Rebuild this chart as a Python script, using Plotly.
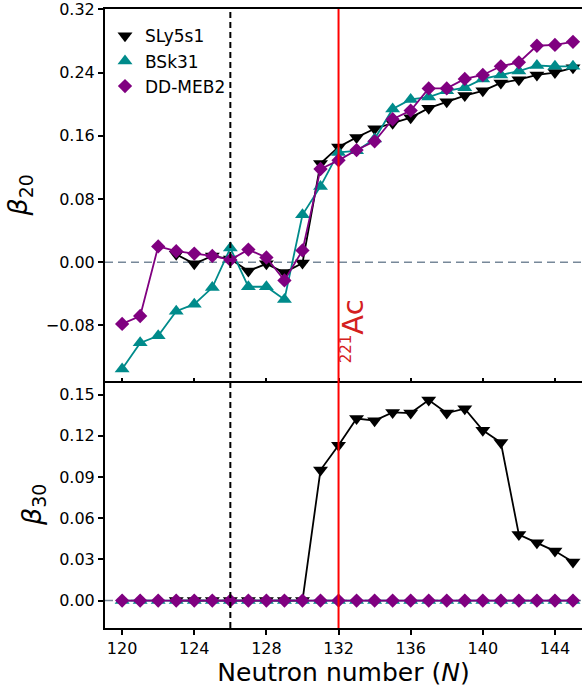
import plotly.graph_objects as go

# Neutron numbers
N_all = list(range(120, 146))
N_sly = list(range(123, 146))

# beta_20 values
b20_sly = [0.010, -0.002, 0.008, 0.004, -0.011, -0.002, -0.013, -0.001,
           0.125, 0.146, 0.158, 0.169, 0.176, 0.183, 0.195, 0.203, 0.211,
           0.217, 0.227, 0.231, 0.237, 0.240, 0.246]
b20_bsk = [-0.135, -0.102, -0.093, -0.062, -0.053, -0.032, 0.018, -0.031,
           -0.031, -0.047, 0.060, 0.096, 0.139, 0.141, 0.156, 0.194, 0.206,
           0.209, 0.217, 0.221, 0.232, 0.237, 0.242, 0.249, 0.248, 0.248]
b20_ddm = [-0.078, -0.068, 0.020, 0.014, 0.011, 0.008, 0.003, 0.016,
           0.006, -0.023, 0.015, 0.118, 0.129, 0.142, 0.153, 0.181, 0.192,
           0.220, 0.220, 0.232, 0.237, 0.248, 0.253, 0.274, 0.275, 0.279]

# beta_30 values
b30_sly = [0.0, 0.0, 0.0, 0.0, 0.0, 0.0, 0.0, 0.0,
           0.095, 0.113, 0.1325, 0.131, 0.137, 0.1365, 0.146, 0.1365, 0.1397,
           0.124, 0.115, 0.048, 0.042, 0.036, 0.028]
b30_bsk = [0.0] * 26
b30_ddm = [0.0] * 26

names = ["SLy5s1", "BSk31", "DD-MEB2"]
colors = ["black", "#008b8b", "#800080"]
symbols = ["triangle-down", "triangle-up", "diamond"]
sizes = [13, 13, 11]

x_ticks = [120, 124, 128, 132, 136, 140, 144]
y20_ticks = [-0.08, 0.0, 0.08, 0.16, 0.24, 0.32]
y30_ticks = [0.0, 0.03, 0.06, 0.09, 0.12, 0.15]

magic_N = 126
ac_N = 132

fig = go.Figure()

series20 = [(N_sly, b20_sly), (N_all, b20_bsk), (N_all, b20_ddm)]
series30 = [(N_sly, b30_sly), (N_all, b30_bsk), (N_all, b30_ddm)]

for i in range(3):
    x, y = series20[i]
    fig.add_trace(go.Scatter(x=x, y=y, mode="lines+markers", xaxis="x2", yaxis="y2",
                             line=dict(color=colors[i], width=1.8),
                             marker=dict(symbol=symbols[i], size=sizes[i], color=colors[i]),
                             showlegend=False))
for i in range(3):
    x, y = series30[i]
    fig.add_trace(go.Scatter(x=x, y=y, mode="lines+markers", xaxis="x", yaxis="y",
                             line=dict(color=colors[i], width=1.8),
                             marker=dict(symbol=symbols[i], size=sizes[i], color=colors[i]),
                             showlegend=False))
# legend entries (markers only)
for i in range(3):
    fig.add_trace(go.Scatter(x=[None], y=[None], mode="markers", xaxis="x2", yaxis="y2",
                             name=names[i],
                             marker=dict(symbol=symbols[i], size=sizes[i], color=colors[i])))

font_family = "DejaVu Sans"
split = 248 / 621

axis_common = dict(showline=True, linecolor="black", linewidth=2, showgrid=False,
                   zeroline=False, tickcolor="black", tickwidth=1.5,
                   ticklabeloverflow="allow",
                   tickfont=dict(family=font_family, size=16, color="black"))

fig.update_layout(
    width=582, height=688,
    margin=dict(l=105, r=0, t=7, b=60),
    plot_bgcolor="white", paper_bgcolor="white",
    font=dict(family=font_family, color="black"),
    xaxis=dict(domain=[0, 1], anchor="y", range=[119.05, 145.5],
               tickvals=x_ticks, ticks="outside", ticklen=5, mirror=False,
               title=dict(text="Neutron number (<i>N</i>)",
                          font=dict(family=font_family, size=25), standoff=4),
               **axis_common),
    yaxis=dict(domain=[0, split], anchor="x", range=[-0.02, 0.16],
               tickvals=y30_ticks, tickformat=".2f", ticks="outside", ticklen=5,
               title=dict(text="<i>β</i><sub>30</sub>",
                          font=dict(family=font_family, size=27), standoff=10),
               **axis_common),
    xaxis2=dict(domain=[0, 1], anchor="y2", range=[119.05, 145.5], matches="x",
                tickvals=x_ticks, showticklabels=False, ticks="inside", ticklen=3,
                mirror=True, **axis_common),
    yaxis2=dict(domain=[split, 1], anchor="x2", range=[-0.15, 0.3205],
                tickvals=y20_ticks, tickformat=".2f", ticks="outside", ticklen=5,
                title=dict(text="<i>β</i><sub>20</sub>",
                           font=dict(family=font_family, size=27), standoff=10),
                **axis_common),
    legend=dict(x=0.0, y=0.985, xanchor="left", yanchor="top",
                bgcolor="rgba(0,0,0,0)", borderwidth=0,
                font=dict(family=font_family, size=17, color="black"),
                itemwidth=30, tracegroupgap=0),
    shapes=[
        dict(type="line", xref="x", yref="paper", x0=magic_N, x1=magic_N, y0=0, y1=1,
             line=dict(color="black", width=2, dash="6px,4px"), layer="above"),
        dict(type="line", xref="x", yref="paper", x0=ac_N, x1=ac_N, y0=0, y1=1,
             line=dict(color="red", width=2), layer="above"),
        dict(type="line", xref="x2 domain", yref="y2", x0=0, x1=1, y0=0, y1=0,
             line=dict(color="#778899", width=1.6, dash="8px,5px"), layer="below"),
        dict(type="line", xref="x domain", yref="y", x0=0, x1=1, y0=0, y1=0,
             line=dict(color="#778899", width=1.6, dash="8px,5px"), layer="below"),
    ],
    annotations=[
        dict(text="<sup><span style='font-size:15px'>221</span></sup>Ac", x=132.82, y=-0.087,
             xref="x2", yref="y2", showarrow=False, textangle=-90,
             xanchor="center", yanchor="middle",
             font=dict(family=font_family, size=29, color="#d42020")),
    ],
)

fig.write_html("out.html", config={"displayModeBar": False},
               post_script="document.body.style.margin='0';document.body.style.overflow='hidden';")
